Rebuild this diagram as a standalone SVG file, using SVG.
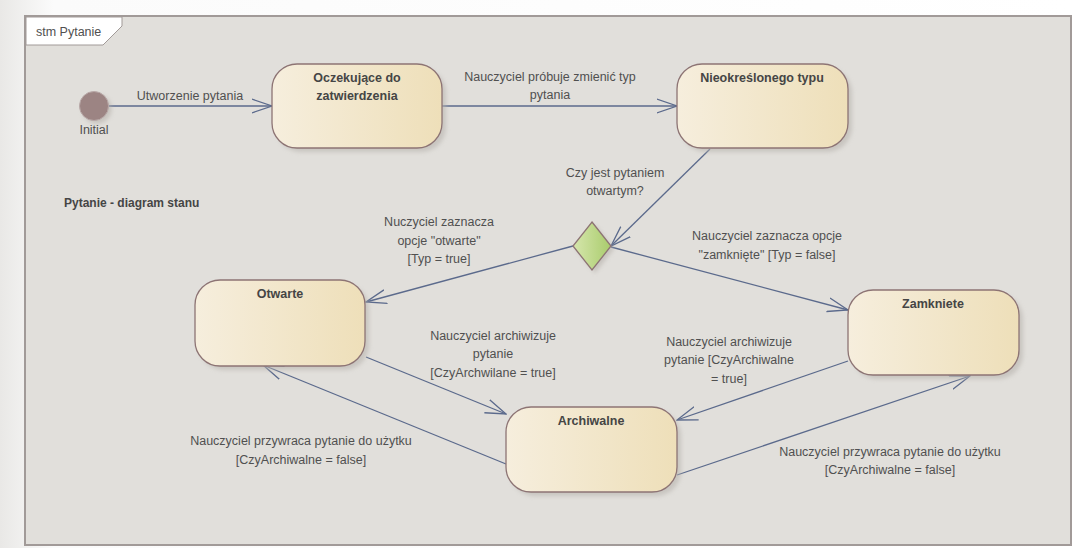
<svg xmlns="http://www.w3.org/2000/svg" width="1074" height="548" viewBox="0 0 1074 548">
<style>
.lbl{font-family:"Liberation Sans",Arial,sans-serif;font-size:12.5px;fill:#505050;text-anchor:middle}
.ttl{font-family:"Liberation Sans",Arial,sans-serif;font-size:12.5px;font-weight:bold;fill:#454545;text-anchor:middle}
.node{fill:url(#ng);stroke:#8d7474;stroke-width:1.3}
.shadow{fill:#b8b4ae;opacity:0.6}
.conn{fill:none;stroke:#5b6a8c;stroke-width:1.3}
</style>
<defs>
<linearGradient id="bg" x1="0" y1="0" x2="1" y2="0">
<stop offset="0" stop-color="#e9e8e6"/><stop offset="0.05" stop-color="#fbfbfb"/><stop offset="1" stop-color="#ffffff"/>
</linearGradient>
<linearGradient id="ng" x1="0" y1="0" x2="1" y2="0">
<stop offset="0" stop-color="#f6eedd"/><stop offset="1" stop-color="#eedfb9"/>
</linearGradient>
<linearGradient id="dg" x1="0" y1="0" x2="1" y2="0">
<stop offset="0" stop-color="#d6e6ad"/><stop offset="1" stop-color="#a9cc6c"/>
</linearGradient>
<filter id="blur" x="-20%" y="-20%" width="140%" height="140%"><feGaussianBlur stdDeviation="2"/></filter>
<marker id="arr" markerUnits="userSpaceOnUse" viewBox="0 0 22 16" markerWidth="22" markerHeight="16" refX="20.5" refY="8" orient="auto">
<path d="M0,1 L20.5,8 L0,15" fill="none" stroke="#5b6a8c" stroke-width="1.3"/>
</marker>
</defs>
<rect x="0" y="0" width="1074" height="548" fill="url(#bg)"/>
<g id="frame">
<rect x="25" y="16" width="1046" height="529" fill="#e1dfdb" stroke="#a19a98" stroke-width="2"/>
<polygon points="26,17 122,17 122,26 103,45 26,45" fill="#ffffff" stroke="#a19a98" stroke-width="1"/>
<text x="36" y="36" class="lbl" style="text-anchor:start;font-size:12.5px">stm Pytanie</text>
<text x="64" y="207" class="ttl" style="text-anchor:start;font-size:12px">Pytanie - diagram stanu</text>
</g>
<g id="connectors">
<line class="conn" x1="108" y1="106" x2="272" y2="106" marker-end="url(#arr)"/>
<line class="conn" x1="442" y1="106" x2="677" y2="106" marker-end="url(#arr)"/>
<line class="conn" x1="710" y1="149" x2="611" y2="246" marker-end="url(#arr)"/>
<line class="conn" x1="573" y1="246" x2="366" y2="302" marker-end="url(#arr)"/>
<line class="conn" x1="611" y1="247" x2="848" y2="310" marker-end="url(#arr)"/>
<line class="conn" x1="366" y1="357" x2="506" y2="414" marker-end="url(#arr)"/>
<line class="conn" x1="506" y1="464" x2="263" y2="365" marker-end="url(#arr)"/>
<line class="conn" x1="848" y1="361" x2="677" y2="420" marker-end="url(#arr)"/>
<line class="conn" x1="677" y1="475" x2="970" y2="376" marker-end="url(#arr)"/>
<text class="lbl" x="190" y="100">Utworzenie pytania</text>
<text class="lbl" x="550" y="81">Nauczyciel próbuje zmienić typ</text>
<text class="lbl" x="550" y="99">pytania</text>
<text class="lbl" x="615" y="177">Czy jest pytaniem</text>
<text class="lbl" x="615" y="195">otwartym?</text>
<text class="lbl" x="767" y="240">Nauczyciel zaznacza opcje</text>
<text class="lbl" x="767" y="259">"zamknięte" [Typ = false]</text>
<text class="lbl" x="439" y="226">Nuczyciel zaznacza</text>
<text class="lbl" x="439" y="245">opcje "otwarte"</text>
<text class="lbl" x="439" y="263">[Typ = true]</text>
<text class="lbl" x="493" y="340">Nauczyciel archiwizuje</text>
<text class="lbl" x="493" y="358">pytanie</text>
<text class="lbl" x="493" y="377">[CzyArchwilane = true]</text>
<text class="lbl" x="729" y="346">Nauczyciel archiwizuje</text>
<text class="lbl" x="729" y="364">pytanie [CzyArchiwalne</text>
<text class="lbl" x="729" y="383">= true]</text>
<text class="lbl" x="301" y="445">Nauczyciel przywraca pytanie do użytku</text>
<text class="lbl" x="301" y="464">[CzyArchiwalne = false]</text>
<text class="lbl" x="890" y="456">Nauczyciel przywraca pytanie do użytku</text>
<text class="lbl" x="890" y="474">[CzyArchiwalne = false]</text>
</g>
<g id="initial">
<circle cx="97" cy="109" r="14.5" fill="#b5b0aa" opacity="0.6" filter="url(#blur)"/>
<circle cx="94" cy="106" r="14.5" fill="#9c8483" stroke="#b9a9a8" stroke-width="1"/>
<text class="lbl" x="94" y="134">Initial</text>
</g>
<g id="oczekujace">
<rect class="shadow" x="276" y="68" width="170" height="84" rx="25" filter="url(#blur)"/>
<rect class="node" x="272" y="64" width="170" height="84" rx="25"/>
<text class="ttl" x="357" y="82">Oczekujące do</text>
<text class="ttl" x="357" y="100">zatwierdzenia</text>
</g>
<g id="nieokreslonego">
<rect class="shadow" x="681" y="68" width="171" height="84" rx="25" filter="url(#blur)"/>
<rect class="node" x="677" y="64" width="171" height="84" rx="25"/>
<text class="ttl" x="762" y="82">Nieokreślonego typu</text>
</g>
<g id="decyzja">
<polygon points="595,225 614,249 595,273 576,249" fill="#b5b0aa" opacity="0.6" filter="url(#blur)"/>
<polygon points="592,222 611,246 592,270 573,246" fill="url(#dg)" stroke="#8d7474" stroke-width="1.3"/>
</g>
<g id="otwarte">
<rect class="shadow" x="199" y="284" width="170" height="86" rx="25" filter="url(#blur)"/>
<rect class="node" x="195" y="280" width="170" height="86" rx="25"/>
<text class="ttl" x="280" y="298">Otwarte</text>
</g>
<g id="zamkniete">
<rect class="shadow" x="852" y="294" width="171" height="85" rx="25" filter="url(#blur)"/>
<rect class="node" x="848" y="290" width="171" height="85" rx="25"/>
<text class="ttl" x="933" y="308">Zamkniete</text>
</g>
<g id="archiwalne">
<rect class="shadow" x="510" y="411" width="171" height="85" rx="25" filter="url(#blur)"/>
<rect class="node" x="506" y="407" width="171" height="85" rx="25"/>
<text class="ttl" x="591" y="425">Archiwalne</text>
</g>
</svg>
